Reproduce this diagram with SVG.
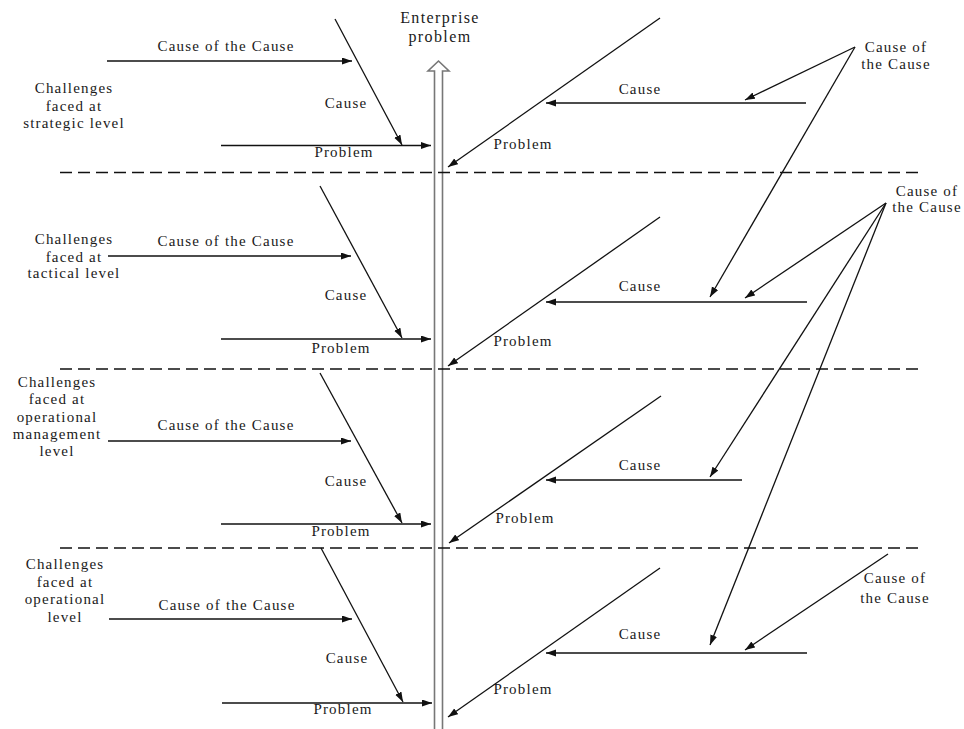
<svg xmlns="http://www.w3.org/2000/svg" width="964" height="729" viewBox="0 0 964 729">
<style>
text{font-family:"Liberation Serif","Times New Roman",Times,serif;font-size:15px;letter-spacing:1.2px;fill:#1a1a1a;text-anchor:middle}
.t{font-size:16px;letter-spacing:1.4px}
.ar{stroke:#111;stroke-width:1.3;fill:none;marker-end:url(#ah)}
.dash{stroke:#111;stroke-width:1.3;stroke-dasharray:12 6;fill:none}
.sp{stroke:#777;stroke-width:1.6;fill:#fff}
</style>
<defs>
<marker id="ah" markerUnits="userSpaceOnUse" markerWidth="11" markerHeight="8" refX="10" refY="3.5" orient="auto">
<path d="M0,0 L10,3.5 L0,7 z" fill="#111"/>
</marker>
</defs>
<rect width="964" height="729" fill="#fff"/>
<g id="spine">
<polyline class="sp" points="434.5,729 434.5,71 428,71 438.5,61 449,71 442.5,71 442.5,729"/>
<text class="t" x="440" y="23">Enterprise</text>
<text class="t" x="440" y="42">problem</text>
</g>
<g id="separators">
<line class="dash" x1="60" y1="172.5" x2="922" y2="172.5"/>
<line class="dash" x1="60" y1="369" x2="922" y2="369"/>
<line class="dash" x1="60" y1="548" x2="922" y2="548"/>
</g>
<g id="connectors">
<line class="ar" x1="107" y1="61" x2="352" y2="61"/>
<line class="ar" x1="335" y1="19" x2="402" y2="145"/>
<line class="ar" x1="221" y1="145.5" x2="431" y2="145.5"/>
<line class="ar" x1="660" y1="18" x2="448" y2="167"/>
<line class="ar" x1="806" y1="103" x2="546" y2="103"/>
<line class="ar" x1="855" y1="47" x2="745" y2="100"/>
<line class="ar" x1="855" y1="47" x2="710" y2="297"/>
<line class="ar" x1="108" y1="256" x2="351" y2="256"/>
<line class="ar" x1="320" y1="186" x2="402" y2="338"/>
<line class="ar" x1="221" y1="339" x2="431" y2="339"/>
<line class="ar" x1="660" y1="217" x2="448" y2="366"/>
<line class="ar" x1="807" y1="302" x2="546" y2="302"/>
<line class="ar" x1="886" y1="203" x2="745" y2="298"/>
<line class="ar" x1="886" y1="203" x2="710" y2="477"/>
<line class="ar" x1="886" y1="203" x2="710" y2="645"/>
<line class="ar" x1="108" y1="441" x2="351" y2="441"/>
<line class="ar" x1="320" y1="373" x2="402" y2="523"/>
<line class="ar" x1="221" y1="524" x2="431" y2="524"/>
<line class="ar" x1="661" y1="396" x2="449" y2="543"/>
<line class="ar" x1="742" y1="480" x2="546" y2="480"/>
<line class="ar" x1="109" y1="619" x2="352" y2="619"/>
<line class="ar" x1="321" y1="548" x2="403" y2="702"/>
<line class="ar" x1="222" y1="703" x2="432" y2="703"/>
<line class="ar" x1="660" y1="568" x2="448" y2="717"/>
<line class="ar" x1="807" y1="653" x2="546" y2="653"/>
<line class="ar" x1="888" y1="554" x2="745" y2="650"/>
</g>
<g id="strategic">
<text x="74" y="93">Challenges</text>
<text x="74" y="111">faced at</text>
<text x="74" y="128">strategic level</text>
<text x="226" y="51">Cause of the Cause</text>
<text x="346" y="108">Cause</text>
<text x="344" y="157">Problem</text>
<text x="640" y="94">Cause</text>
<text x="523" y="149">Problem</text>
<text x="896" y="52">Cause of</text>
<text x="896" y="69">the Cause</text>
</g>
<g id="tactical">
<text x="74" y="244">Challenges</text>
<text x="74" y="262">faced at</text>
<text x="74" y="278">tactical level</text>
<text x="226" y="246">Cause of the Cause</text>
<text x="346" y="300">Cause</text>
<text x="341" y="353">Problem</text>
<text x="640" y="291">Cause</text>
<text x="523" y="346">Problem</text>
<text x="927" y="196">Cause of</text>
<text x="927" y="212">the Cause</text>
</g>
<g id="operational-management">
<text x="57" y="387">Challenges</text>
<text x="57" y="404">faced at</text>
<text x="57" y="422">operational</text>
<text x="57" y="439">management</text>
<text x="57" y="456">level</text>
<text x="226" y="430">Cause of the Cause</text>
<text x="346" y="486">Cause</text>
<text x="341" y="536">Problem</text>
<text x="640" y="470">Cause</text>
<text x="525" y="523">Problem</text>
</g>
<g id="operational">
<text x="65" y="569">Challenges</text>
<text x="65" y="587">faced at</text>
<text x="65" y="604">operational</text>
<text x="65" y="622">level</text>
<text x="227" y="610">Cause of the Cause</text>
<text x="347" y="663">Cause</text>
<text x="343" y="714">Problem</text>
<text x="640" y="639">Cause</text>
<text x="523" y="694">Problem</text>
<text x="895" y="583">Cause of</text>
<text x="895" y="603">the Cause</text>
</g>
</svg>
